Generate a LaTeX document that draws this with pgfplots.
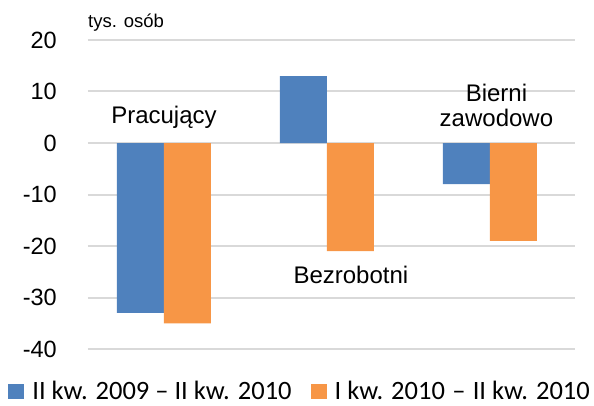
\documentclass[border=0pt]{standalone}
\usepackage{pgfplots}
\pgfplotsset{compat=1.18}
\usepackage{fontspec}
\setmainfont{Liberation Sans}
\newfontfamily\carlito{Carlito}
\definecolor{cblue}{HTML}{4F81BD}
\definecolor{corange}{HTML}{F79646}
\definecolor{cgrid}{HTML}{D9D9D9}
\begin{document}
\begin{tikzpicture}
\path[use as bounding box] (0,0) rectangle (594pt,405pt);
\begin{axis}[
  at={(88pt,56pt)}, anchor=south west,
  scale only axis, width=487pt, height=309pt,
  clip=false,
  ybar=0pt, bar width=47pt,
  xmin=-0.466, xmax=2.522,
  ymin=-40, ymax=20,
  ytick={-40,-30,...,20},
  xtick=\empty,
  ymajorgrids,
  grid style={line width=2pt, color=cgrid},
  axis line style={draw=none},
  major tick length=0pt,
  /pgf/number format/assume math mode=true,
  yticklabel style={font=\fontsize{23.5}{28}\selectfont, anchor=east, inner sep=0pt, xshift=-31pt},
  legend style={at={(-0.164,-0.136)}, anchor=west, draw=none, fill=none, inner sep=0pt,
    font=\carlito\fontsize{26.5}{30}\selectfont,
    nodes={inner sep=0pt, anchor=west},
    /tikz/every odd column/.append style={column sep=8pt},
    /tikz/every even column/.append style={column sep=19pt}},
  legend columns=2,
  legend image code/.code={\fill[#1] (0pt,-7.5pt) rectangle (16pt,7.5pt);},
]
\addplot[fill=cblue, draw=none] coordinates {(0,-33) (1,13) (2,-8)};
\addplot[fill=corange, draw=none] coordinates {(0,-35) (1,-21) (2,-19)};
\legend{II kw. 2009 – II kw. 2010, I kw. 2010\hspace{0.05em} – \hspace{0.05em}II kw. 2010}
\node[font=\fontsize{24}{28}\selectfont] at (axis cs:0,5) {Pracujący};
\node[font=\fontsize{24}{28}\selectfont] at (axis cs:1.147,-25.6) {Bezrobotni};
\node[font=\fontsize{24}{25}\selectfont, align=center] at (axis cs:2.04,7.2) {Bierni\\zawodowo};
\node[font=\fontsize{18.5}{22}\selectfont, anchor=base west, inner sep=0pt] at (rel axis cs:0,1) [yshift=12pt] {tys. osób};
\end{axis}
\end{tikzpicture}
\end{document}
